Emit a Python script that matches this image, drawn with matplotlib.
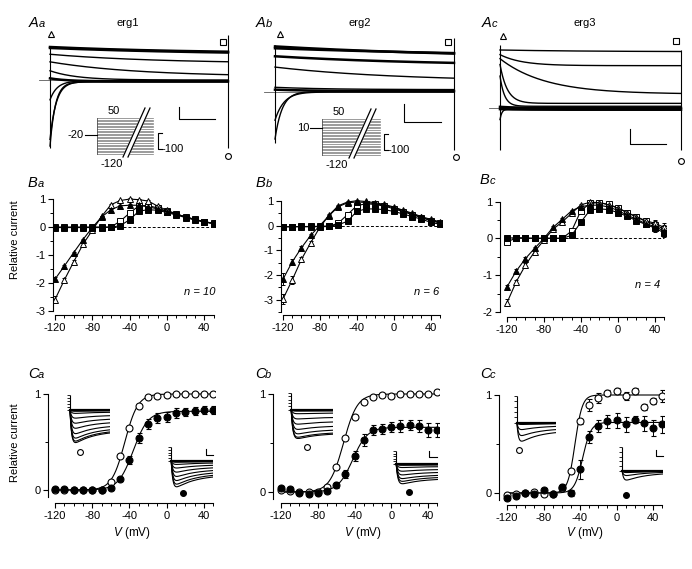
import numpy as np
import matplotlib.pyplot as plt
from matplotlib.ticker import MultipleLocator, FixedLocator

plt.rcParams['font.family'] = ['Liberation Sans', 'DejaVu Sans']
plt.rcParams['axes.unicode_minus'] = False
plt.rcParams['mathtext.fontset'] = 'custom'
plt.rcParams['mathtext.it'] = 'Liberation Sans:italic'
plt.rcParams['mathtext.rm'] = 'Liberation Sans'

W, H = 692, 569

# ---------------- data ----------------
volts = list(range(-120, 51, 10))
t = np.linspace(0, 1, 400)  # time within the test pulse (fraction)

# A: current traces -> start value, steady value, time constant (relative units)
aa_i0 = [1.0, 0.97, 0.78, 0.55, 0.28, 0.05, -0.6, -1.8, -2.0]
aa_iss = [0.8, 0.75, 0.5, 0.1, 0.0, -0.04, -0.03, -0.05, -0.06]
aa_tau = [0.8, 1.0, 0.6, 0.5, 0.15, 0.1, 0.04, 0.035, 0.03]
aa_spike = [(-2.05, 1.0), (-2.06, 1.36)]

ab_i0 = [0.97, 0.93, 0.76, 0.53, 0.1, 0.05, -0.6, -1.0]
ab_iss = [0.7, 0.72, 0.55, 0.22, 0.05, 0.02, 0.0, 0.01]
ab_tau = [1.2, 1.5, 0.9, 0.7, 0.3, 0.2, 0.05, 0.04]
ab_spike = [(-1.09, 1.0), (-1.23, 1.15)]

ac_i0 = [1.0, 0.92, 0.85, 0.75, 0.55, 0.02, -0.02, -0.2]
ac_iss = [0.97, 0.73, 0.24, 0.08, 0.03, 0.0, -0.03, -0.02]
ac_tau = [0.5, 0.12, 0.25, 0.04, 0.025, 0.1, 0.1, 0.01]
ac_spike = [(-0.72, 1.09), (-0.72, 1.0)]

# B: relative current-voltage relations
ba_open_tri = [-2.6, -1.9, -1.25, -0.62, -0.12, 0.38, 0.8, 0.95, 1.0, 0.98, 0.93, 0.75, 0.6, 0.47, 0.36, 0.27, 0.19, 0.13]
ba_fill_tri = [-1.87, -1.4, -0.92, -0.45, -0.02, 0.36, 0.62, 0.76, 0.78, 0.78, 0.72, 0.65, 0.55, 0.46, 0.36, 0.27, 0.19, 0.13]
ba_open_sq = [0, 0, 0, 0, 0, 0, 0.0, 0.21, 0.5, 0.76, 0.77, 0.68, 0.57, 0.46, 0.36, 0.27, 0.19, 0.13]
ba_fill_sq = [-0.02, -0.02, -0.02, -0.02, -0.02, -0.02, -0.01, 0.05, 0.26, 0.57, 0.62, 0.6, 0.52, 0.43, 0.34, 0.25, 0.18, 0.12]
ba_open_tri_err = [0.13, 0.08, 0.05, 0.04] + [0.03] * 14
ba_fill_tri_err = [0.08, 0.05, 0.04, 0.03] + [0.03] * 14

bb_open_tri = [-2.97, -2.2, -1.37, -0.7, -0.07, 0.42, 0.8, 0.95, 1.0, 0.97, 0.92, 0.85, 0.75, 0.62, 0.5, 0.36, 0.25, 0.15]
bb_fill_tri = [-2.17, -1.47, -0.9, -0.4, 0.0, 0.4, 0.76, 0.92, 0.95, 0.93, 0.88, 0.82, 0.72, 0.6, 0.47, 0.33, 0.22, 0.12]
bb_open_sq = [-0.05, -0.05, -0.05, -0.05, -0.05, -0.04, 0.1, 0.44, 0.8, 0.88, 0.85, 0.78, 0.68, 0.56, 0.44, 0.32, 0.2, 0.1]
bb_fill_sq = [-0.05, -0.05, -0.04, -0.04, -0.03, -0.02, 0.03, 0.17, 0.57, 0.67, 0.67, 0.64, 0.57, 0.47, 0.36, 0.26, 0.13, 0.05]
bb_open_tri_err = [0.22, 0.15, 0.1, 0.06] + [0.03] * 14
bb_fill_tri_err = [0.25, 0.12, 0.07, 0.05] + [0.03] * 14

bc_open_tri = [-1.75, -1.18, -0.73, -0.36, -0.05, 0.25, 0.45, 0.68, 0.91, 0.98, 0.97, 0.91, 0.82, 0.7, 0.59, 0.48, 0.41, 0.3]
bc_fill_tri = [-1.32, -0.89, -0.55, -0.27, 0.0, 0.3, 0.52, 0.75, 0.86, 0.9, 0.9, 0.85, 0.76, 0.63, 0.52, 0.4, 0.32, 0.2]
bc_open_sq = [-0.09, 0.0, 0.0, 0.0, 0.0, 0.0, 0.0, 0.2, 0.75, 0.95, 0.97, 0.92, 0.83, 0.7, 0.58, 0.46, 0.37, 0.25]
bc_fill_sq = [0.0, 0.02, 0.01, 0.0, 0.0, 0.0, 0.0, 0.08, 0.44, 0.77, 0.8, 0.78, 0.7, 0.6, 0.48, 0.38, 0.28, 0.15]
bc_open_tri_err = [0.1, 0.06, 0.05, 0.04] + [0.03] * 10 + [0.06, 0.08, 0.1, 0.12]
bc_fill_tri_err = [0.06, 0.05, 0.04, 0.03] + [0.03] * 10 + [0.06, 0.08, 0.1, 0.12]
bc_sq_err = [0.03] * 8 + [0.07] + [0.03] * 5 + [0.06, 0.08, 0.1, 0.12]

# C: activation curves (open = peak tail, filled = end of pulse)
ca_open = [0.0, 0.0, 0.0, 0.0, 0.0, 0.0, 0.08, 0.35, 0.65, 0.88, 0.97, 0.98, 0.99, 1.0, 1.0, 1.0, 1.0, 1.0]
ca_fill = [0.01, 0.01, 0.0, 0.0, 0.0, 0.0, 0.02, 0.11, 0.31, 0.54, 0.69, 0.75, 0.76, 0.8, 0.81, 0.82, 0.83, 0.83]
ca_open_err = [0.01] * 18
ca_fill_err = [0.01] * 6 + [0.02, 0.02, 0.04, 0.05, 0.05, 0.05, 0.05, 0.05, 0.04, 0.04, 0.04, 0.04]
ca_fit = [(1.0, -45, 7.0), (0.82, -36, 8.0)]  # gmax, V1/2, k

cb_open = [0.02, 0.01, 0.0, 0.0, 0.0, 0.05, 0.26, 0.55, 0.77, 0.92, 0.97, 0.99, 0.98, 1.0, 1.0, 1.0, 1.0, 1.02]
cb_fill = [0.04, 0.03, -0.01, -0.02, -0.01, 0.01, 0.07, 0.18, 0.37, 0.53, 0.63, 0.64, 0.66, 0.67, 0.68, 0.67, 0.63, 0.63]
cb_open_err = [0.01] * 18
cb_fill_err = [0.02] * 6 + [0.03, 0.04, 0.05, 0.06, 0.05, 0.05, 0.05, 0.06, 0.05, 0.06, 0.07, 0.07]
cb_fit = [(1.0, -52, 7.5), (0.66, -42, 8.0)]

cc_open = [-0.02, -0.01, 0.0, 0.01, -0.01, -0.01, 0.05, 0.22, 0.73, 0.9, 0.97, 1.02, 1.04, 0.99, 1.04, 0.88, 0.94, 0.99]
cc_fill = [-0.05, -0.03, 0.0, -0.01, 0.03, -0.01, 0.06, 0.0, 0.24, 0.57, 0.68, 0.73, 0.74, 0.7, 0.75, 0.71, 0.66, 0.7]
cc_open_err = [0.02] * 8 + [0.03, 0.06, 0.05, 0.03, 0.03, 0.04, 0.03, 0.03, 0.03, 0.06]
cc_fill_err = [0.02] * 6 + [0.03, 0.03, 0.1, 0.06, 0.06, 0.07, 0.08, 0.08, 0.04, 0.08, 0.08, 0.09]
cc_fit = [(1.0, -45.5, 4.0), (0.72, -37, 4.5)]

# tail current families in the C insets (relative amplitudes)
ca_left_amps = [0, 0.02, 0.05, 0.12, 0.28, 0.45, 0.62, 0.8, 0.95, 1.05, 1.1]
ca_right_amps = [0, 0.02, 0.06, 0.15, 0.3, 0.47, 0.65, 0.82, 0.97, 1.08]
cb_left_amps = [0, 0.02, 0.05, 0.15, 0.35, 0.55, 0.75, 0.92, 1.05, 1.1]
cb_right_amps = [0, 0.03, 0.08, 0.2, 0.4, 0.6, 0.8, 0.95, 1.08]
cc_left_amps = [0, 0.03, 0.1, 0.4, 0.75, 1.08]
cc_right_amps = [0, 0.05, 0.2, 0.55, 1.08]

# ---------------- figure ----------------
fig = plt.figure(figsize=(W / 100, H / 100), dpi=100)


def box(l, top, r, bot):
    return fig.add_axes([l / W, 1 - bot / H, (r - l) / W, (bot - top) / H])


def trace_panel(t0, t1, base, unit, l, top, r, bot, i0s, isss, taus, spike):
    ax = box(l, top, r, bot)
    sx = t1 - t0
    ax.set_xlim((l - t0) / sx, (r - t0) / sx)
    ax.set_ylim((base - bot) / unit, (base - top) / unit)
    ax.axis('off')
    ax.plot([-0.06, 1], [0, 0], color='0.35', lw=0.6)
    for i0, iss, tau in zip(i0s, isss, taus):
        y = iss + (i0 - iss) * np.exp(-t / tau)
        lw = 1.8 if (tau >= 0.8 or abs(i0) < 0.1) else 1.0
        ax.plot(t, y, color='k', lw=lw)
    ax.vlines([0, 1], [spike[0][0], spike[1][0]], [spike[0][1], spike[1][1]],
              color='k', lw=0.8)
    return ax


trace_panel(50, 228, 80, 33, 38, 28, 234, 155, aa_i0, aa_iss, aa_tau, aa_spike)
trace_panel(275, 454, 92, 47, 262, 28, 460, 155, ab_i0, ab_iss, ab_tau, ab_spike)
trace_panel(500, 681, 108, 58, 488, 28, 688, 158, ac_i0, ac_iss, ac_tau, ac_spike)


def iv_axes(x_m120, ppm, spine_x, y_zero, ppu, top, bot, ylo, yhi, ymaj, ymin):
    right_px = x_m120 + 172 * ppm
    ax = box(spine_x, top, right_px, bot)
    ax.set_xlim(-120 - (x_m120 - spine_x) / ppm, 52)
    ax.set_ylim((y_zero - bot) / ppu, (y_zero - top) / ppu)
    ax.patch.set_alpha(0)
    for s in ['top', 'right']:
        ax.spines[s].set_visible(False)
    ax.spines['left'].set_bounds(ylo, yhi)
    ax.spines['bottom'].set_bounds(-120, 50)
    for s in ['left', 'bottom']:
        ax.spines[s].set_linewidth(0.8)
    ax.xaxis.set_major_locator(MultipleLocator(40))
    ax.xaxis.set_minor_locator(MultipleLocator(10))
    ax.set_yticks(ymaj)
    minors = [v for v in np.arange(-4, 2.01, ymin) if ylo - 1e-9 <= v <= yhi + 1e-9]
    ax.yaxis.set_minor_locator(FixedLocator(minors))
    ax.tick_params(which='major', direction='out', length=3.5, width=0.8,
                   labelsize=8, pad=2)
    ax.tick_params(which='minor', direction='out', length=2, width=0.7)
    return ax


def iv_plot(ax, ot, ft, osq, fsq, ot_err, ft_err, sq_err):
    ax.hlines(0, volts[0], volts[-1], colors='k', linestyles=(0, (3, 2)), lw=0.7)
    kw = dict(color='k', lw=0.8, mec='k', mew=0.7, capsize=1.5, elinewidth=0.7)
    ax.errorbar(volts, osq, yerr=sq_err, marker='s', mfc='w', ms=3.8, **kw)
    ax.errorbar(volts, fsq, yerr=sq_err, marker='s', mfc='k', ms=3.8, **kw)
    ax.errorbar(volts, ot, yerr=ot_err, marker='^', mfc='w', ms=4.5, **kw)
    ax.errorbar(volts, ft, yerr=ft_err, marker='^', mfc='k', ms=4.5, **kw)


ba = iv_axes(55, 0.9325, 53, 227, 27.9, 185, 315, -3, 1, [-3, -2, -1, 0, 1], 0.5)
iv_plot(ba, ba_open_tri, ba_fill_tri, ba_open_sq, ba_fill_sq,
        ba_open_tri_err, ba_fill_tri_err, [0] * 18)
bb = iv_axes(283, 0.922, 281, 225.5, 24.75, 185, 315, -3.5, 1, [-3, -2, -1, 0, 1], 0.5)
iv_plot(bb, bb_open_tri, bb_fill_tri, bb_open_sq, bb_fill_sq,
        bb_open_tri_err, bb_fill_tri_err, [0] * 18)
bc = iv_axes(507, 0.9235, 500, 238.3, 36.8, 190, 317, -2, 1, [-2, -1, 0, 1], 0.5)
iv_plot(bc, bc_open_tri, bc_fill_tri, bc_open_sq, bc_fill_sq,
        bc_open_tri_err, bc_fill_tri_err, bc_sq_err)

vfit = np.linspace(-120, 50, 300)


def act_plot(ax, opn, fil, opn_err, fil_err, fits):
    for gmax, vh, k in fits:
        ax.plot(vfit, gmax / (1 + np.exp((vh - vfit) / k)), color='k', lw=0.8)
    kw = dict(fmt='o', color='k', mec='k', mew=0.8, ms=5, capsize=1.8, elinewidth=0.7)
    ax.errorbar(volts, opn, yerr=opn_err, mfc='w', **kw)
    ax.errorbar(volts, fil, yerr=fil_err, mfc='k', **kw)


ca = iv_axes(55, 0.931, 48, 490, 96, 380, 503, -0.07, 1, [0, 1], 0.5)
act_plot(ca, ca_open, ca_fill, ca_open_err, ca_fill_err, ca_fit)
cb = iv_axes(281, 0.919, 273, 492, 98, 380, 503, -0.07, 1, [0, 1], 0.5)
act_plot(cb, cb_open, cb_fill, cb_open_err, cb_fill_err, cb_fit)
cc = iv_axes(507, 0.9125, 499, 493, 98, 380, 505, -0.07, 1, [0, 1], 0.5)
act_plot(cc, cc_open, cc_fill, cc_open_err, cc_fill_err, cc_fit)


def tail_inset(l, top, r, bot, base, amps, recover):
    ax = box(l, top, r, bot)
    depth = bot - base
    ax.set_xlim(-0.1, 1)
    ax.set_ylim(-1.02, (base - top) / depth)
    ax.axis('off')
    lad = (base - top) / depth
    ax.vlines(0, 0, lad, color='k', lw=0.8)
    ax.hlines(np.linspace(0, lad, 6), -0.07, 0, color='k', lw=0.6)
    for a in amps:
        y = -a * (1 - np.exp(-t / 0.04)) * (recover + (1 - recover) * np.exp(-t / 0.5))
        ax.plot(t, y, color='k', lw=0.8)
    ax.plot(t, np.zeros_like(t), color='k', lw=1.6)


tail_inset(66, 395, 110, 445, 410, ca_left_amps, 0.55)
tail_inset(167, 447, 213, 490, 461, ca_right_amps, 0.45)
tail_inset(287, 393, 333, 439, 410, cb_left_amps, 0.74)
tail_inset(392, 451, 438, 485, 464, cb_right_amps, 0.65)
tail_inset(513, 396, 556, 444, 423, cc_left_amps, 0.35)
tail_inset(618, 447, 663, 482, 471, cc_right_amps, 0.15)

# ---------------- overlay: labels, scale bars, protocols ----------------
ov = fig.add_axes([0, 0, 1, 1])
ov.set_xlim(0, W)
ov.set_ylim(H, 0)
ov.axis('off')
ov.patch.set_alpha(0)


def panel_label(x, y, big, small):
    ov.text(x, y, big, fontsize=10.5, style='italic', va='baseline')
    ov.text(x + 9.5, y, small, fontsize=8, style='italic', va='baseline')


panel_label(29, 27, 'A', 'a')
panel_label(256, 27, 'A', 'b')
panel_label(482, 27, 'A', 'c')
panel_label(28, 187, 'B', 'a')
panel_label(256, 187, 'B', 'b')
panel_label(480, 184, 'B', 'c')
panel_label(28, 378, 'C', 'a')
panel_label(255, 378, 'C', 'b')
panel_label(480, 378, 'C', 'c')

for x, name in [(128, 'erg1'), (360, 'erg2'), (585, 'erg3')]:
    ov.text(x, 23, name, fontsize=8, ha='center', va='center')

ov.text(200, 292, 'n = 10', fontsize=8, style='italic', ha='center', va='center')
ov.text(427, 292, 'n = 6', fontsize=8, style='italic', ha='center', va='center')
ov.text(648, 285, 'n = 4', fontsize=8, style='italic', ha='center', va='center')

for y in [240, 443]:
    ov.text(15, y, 'Relative current', fontsize=8, rotation=90, ha='center', va='center')
for x in [132, 363, 585]:
    ov.text(x, 533, r'$\it{V}$ (mV)', fontsize=8.5, ha='center', va='center')

# markers used in A and C
sym = dict(ls='none', mec='k', mew=0.8)
for x, y in [(51, 34), (280, 34), (503, 36)]:
    ov.plot(x, y, marker='^', mfc='w', ms=4, **sym)
for x, y in [(223, 42), (448, 42), (676, 41)]:
    ov.plot(x, y, marker='s', mfc='w', ms=3.8, **sym)
for x, y in [(228, 156), (456, 157), (681, 161), (80, 452), (307, 447), (519, 450)]:
    ov.plot(x, y, marker='o', mfc='w', ms=4.2, **sym)
for x, y in [(183, 493), (409, 492), (626, 495)]:
    ov.plot(x, y, marker='o', mfc='k', ms=4.2, **sym)

# scale bars
for x0, y0, x1, y1 in [(179, 107, 215, 119), (404, 104, 441, 122), (630, 129, 666, 144),
                       (206, 449, 213, 455), (429, 451, 437, 457), (656, 450, 663, 456)]:
    ov.plot([x0, x0, x1], [y0, y1, y1], color='k', lw=0.8)


def protocol(x0, y0, x1, y1, s_bot, s_top, hold, hold_y, br_x):
    for yy in np.linspace(y0, y1, 24):
        ov.plot([x0, x1], [yy, yy], color='0.45', lw=0.5)
    ov.plot([x0, x0], [y0, y1], color='0.3', lw=0.6)
    w = 5
    ov.fill([s_bot, s_bot + w, s_top + w, s_top], [y1 + 3, y1 + 3, y0 - 10, y0 - 10],
            color='w', zorder=5)
    ov.plot([s_bot, s_top], [y1 + 3, y0 - 10], color='k', lw=0.9, zorder=6)
    ov.plot([s_bot + w, s_top + w], [y1 + 3, y0 - 10], color='k', lw=0.9, zorder=6)
    ov.plot([x0 - 12, x0], [hold_y, hold_y], color='k', lw=0.8)
    ov.text(x0 - 13, hold_y, hold, fontsize=8, ha='right', va='center')
    ov.text(x0 + 17, y0 - 7, '50', fontsize=8, ha='center', va='center')
    ov.text(x0 + 15, y1 + 10, '-120', fontsize=8, ha='center', va='center')
    ov.plot([br_x + 4, br_x, br_x, br_x + 4], [y0 + 15, y0 + 15, y1 - 5, y1 - 5],
            color='k', lw=0.8)
    ov.text(br_x + 4, y1 - 5, '-100', fontsize=8, ha='left', va='center')


protocol(97, 118, 153, 154, 123, 145, '-20', 135, 158)
protocol(322, 119, 380, 155, 349, 371, '10', 128, 384)

fig.savefig('out.png', dpi=100)
